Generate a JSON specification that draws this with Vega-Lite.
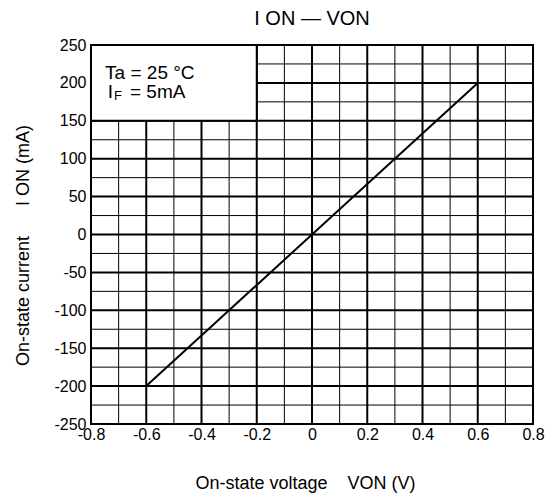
{
  "$schema": "https://vega.github.io/schema/vega-lite/v6.json",
  "autosize": {"type": "none"},
  "padding": {"left": 91, "top": 45, "right": 23, "bottom": 75},
  "width": 442,
  "height": 379,
  "background": "white",
  "config": {
    "font": "Liberation Sans",
    "view": {"stroke": "black", "strokeWidth": 2},
    "axis": {"grid": false, "domain": false, "ticks": false, "labelOverlap": false, "labelFlush": false, "labelBound": false, "labelFont": "Liberation Sans", "labelColor": "black", "labelFontSize": 16, "titleFont": "Liberation Sans", "titleFontWeight": "normal", "titleColor": "black", "titleFontSize": 17}
  },
  "title": {"text": "I ON — VON", "fontSize": 20, "fontWeight": "normal", "font": "Liberation Sans", "color": "black", "anchor": "middle", "offset": 8},
  "datasets": {
    "vmajor": [{"v": -0.6}, {"v": -0.4}, {"v": -0.2}, {"v": 0}, {"v": 0.2}, {"v": 0.4}, {"v": 0.6}],
    "vminor": [{"v": -0.7}, {"v": -0.5}, {"v": -0.3}, {"v": -0.1}, {"v": 0.1}, {"v": 0.3}, {"v": 0.5}, {"v": 0.7}],
    "hmajor": [{"i": -200}, {"i": -150}, {"i": -100}, {"i": -50}, {"i": 0}, {"i": 50}, {"i": 100}, {"i": 150}, {"i": 200}],
    "hminor": [{"i": -225}, {"i": -175}, {"i": -125}, {"i": -75}, {"i": -25}, {"i": 25}, {"i": 75}, {"i": 125}, {"i": 175}, {"i": 225}],
    "curve": [{"von": -0.6, "ion": -200}, {"von": 0.6, "ion": 200}],
    "box": [{"x1": -0.8, "x2": -0.2, "y1": 150, "y2": 250}]
  },
  "layer": [
    {
      "data": {"name": "vminor"},
      "mark": {"type": "rule", "color": "black", "strokeWidth": 1},
      "encoding": {
        "x": {"field": "v", "type": "quantitative", "scale": {"domain": [-0.8, 0.8], "nice": false, "zero": false},
          "axis": {"values": [-0.8, -0.6, -0.4, -0.2, 0, 0.2, 0.4, 0.6, 0.8], "tickCount": 20, "labelExpr": "'' + datum.value", "labelPadding": 2, "title": "On-state voltage\u00a0\u00a0\u00a0\u00a0VON (V)", "titleFontSize": 18, "titlePadding": 32, "titleX": 214}}
      }
    },
    {
      "data": {"name": "vmajor"},
      "mark": {"type": "rule", "color": "black", "strokeWidth": 2},
      "encoding": {"x": {"field": "v", "type": "quantitative"}}
    },
    {
      "data": {"name": "hmajor"},
      "mark": {"type": "rule", "color": "black", "strokeWidth": 2},
      "encoding": {
        "y": {"field": "i", "type": "quantitative", "scale": {"domain": [-250, 250], "nice": false, "zero": false},
          "axis": {"values": [-250, -200, -150, -100, -50, 0, 50, 100, 150, 200, 250], "tickCount": 20, "labelExpr": "'' + datum.value", "labelPadding": 5, "title": "On-state current\u00a0\u00a0\u00a0\u00a0\u00a0\u00a0I\u00a0ON (mA)", "titleFontSize": 18, "titlePadding": 21, "titleY": 200}}
      }
    },
    {
      "data": {"name": "hminor"},
      "mark": {"type": "rule", "color": "black", "strokeWidth": 1},
      "encoding": {"y": {"field": "i", "type": "quantitative"}}
    },
    {
      "data": {"name": "box"},
      "mark": {"type": "rect", "fill": "white", "stroke": "black", "strokeWidth": 2},
      "encoding": {
        "x": {"field": "x1", "type": "quantitative"},
        "x2": {"field": "x2"},
        "y": {"field": "y1", "type": "quantitative"},
        "y2": {"field": "y2"}
      }
    },
    {
      "data": {"name": "curve"},
      "mark": {"type": "line", "color": "black", "strokeWidth": 2},
      "encoding": {
        "x": {"field": "von", "type": "quantitative"},
        "y": {"field": "ion", "type": "quantitative"}
      }
    },
    {
      "data": {"values": [{"t": "Ta = 25 °C", "v": -0.749, "i": 212.5}, {"t": "I", "v": -0.739, "i": 187.5}]},
      "mark": {"type": "text", "align": "left", "baseline": "middle", "fontSize": 19, "color": "black"},
      "encoding": {
        "x": {"field": "v", "type": "quantitative"},
        "y": {"field": "i", "type": "quantitative"},
        "text": {"field": "t"}
      }
    },
    {
      "data": {"values": [{"t": "F", "v": -0.717, "i": 185.5}]},
      "mark": {"type": "text", "align": "left", "baseline": "middle", "fontSize": 13, "color": "black", "dy": 2},
      "encoding": {
        "x": {"field": "v", "type": "quantitative"},
        "y": {"field": "i", "type": "quantitative"},
        "text": {"field": "t"}
      }
    },
    {
      "data": {"values": [{"t": "= 5mA", "v": -0.659, "i": 187.5}]},
      "mark": {"type": "text", "align": "left", "baseline": "middle", "fontSize": 19, "color": "black"},
      "encoding": {
        "x": {"field": "v", "type": "quantitative"},
        "y": {"field": "i", "type": "quantitative"},
        "text": {"field": "t"}
      }
    }
  ]
}
